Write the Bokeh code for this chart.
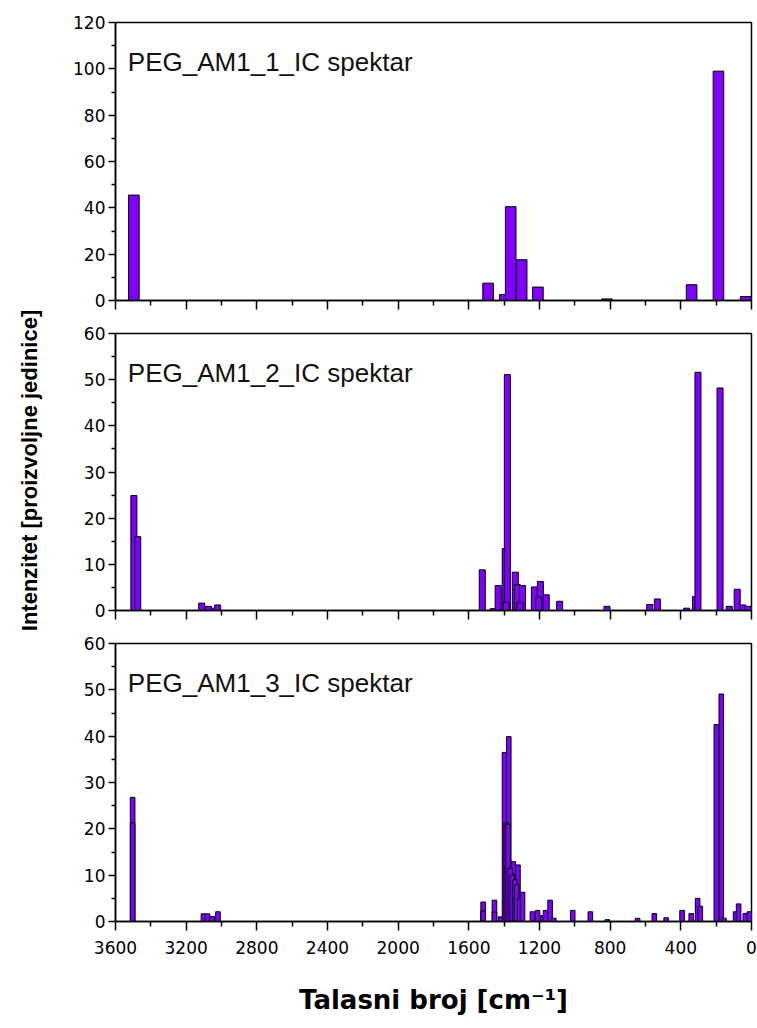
import math
from bokeh.plotting import figure
from bokeh.models import Range1d, FixedTicker, Label
from bokeh.layouts import column, row
from bokeh.embed import file_html
from bokeh.resources import INLINE

# ---- data (wavenumber cm^-1, intensity) ----
wn1 = [3496, 1491, 1396, 1363, 1301, 1209, 818, 339, 187, 33]
int1 = [45.5, 7.5, 2.6, 40.5, 17.6, 5.8, 0.7, 6.8, 99.0, 1.7]

wn2 = [3496, 3474, 3112, 3074, 3045, 3022, 1524, 1462, 1434, 1394, 1382, 1390,
       1337, 1325, 1296, 1310, 1229, 1195, 1162, 1205, 1086, 818, 576, 533,
       367, 317, 303, 178, 126, 81, 50, 19]
int2 = [24.9, 16.0, 1.6, 0.9, 0.5, 1.2, 8.8, 0.4, 5.4, 13.4, 51.1, 1.8,
        8.3, 5.6, 5.4, 1.8, 5.1, 6.3, 3.4, 2.9, 2.0, 0.9, 1.3, 2.5,
        0.5, 3.0, 51.6, 48.2, 0.9, 4.6, 1.2, 0.9]

wn3 = [3503, 3503, 3102, 3079, 3053, 3020, 1519, 1519, 1455, 1455, 1420, 1398,
       1374, 1388, 1348, 1322, 1360, 1378, 1366, 1354, 1340, 1330, 1312, 1296,
       1240, 1211, 1180, 1166, 1140, 1119, 1012, 912, 816, 645, 550, 483, 393,
       341, 305, 290, 199, 171, 156, 90, 73, 35, 12]
int3 = [26.8, 21.3, 1.65, 1.65, 1.1, 2.1, 4.2, 2.3, 4.6, 2.0, 1.0, 36.5,
        39.9, 21.3, 12.9, 12.2, 10.4, 21.0, 11.5, 10.0, 9.0, 8.0, 5.0, 6.3,
        2.1, 2.4, 1.3, 2.4, 4.6, 0.7, 2.4, 2.1, 0.4, 0.7, 1.7, 0.8, 2.4,
        1.7, 5.0, 3.3, 42.5, 49.1, 0.7, 2.1, 3.8, 1.7, 2.1]

titles = ["PEG_AM1_1_IC spektar", "PEG_AM1_2_IC spektar", "PEG_AM1_3_IC spektar"]
x_ticks = [3600, 3200, 2800, 2400, 2000, 1600, 1200, 800, 400, 0]
x_minor = [3400, 3000, 2600, 2200, 1800, 1400, 1000, 600, 200]
ymax = [120, 60, 60]
bar_w = [60, 34, 26]
y_title = "Intenzitet [proizvoljne jedinice]"
x_title = "Talasni broj [cm\u207b\u00b9]"

BAR = "#7f00ff"
TICK_FONT = "DejaVu Sans"
TW = 45          # width of the y-title strip
PW = 757 - TW    # panel width

def make_panel(i, wn, vals, height, top, bottom, show_x_labels):
    p = figure(width=PW, height=height, output_backend="svg", toolbar_location=None,
               x_range=Range1d(3600, 0), y_range=Range1d(0, ymax[i]),
               min_border_left=115 - TW, min_border_right=6,
               min_border_top=top, min_border_bottom=bottom)
    p.background_fill_color = "white"
    p.border_fill_color = "white"
    p.outline_line_color = "black"
    p.outline_line_width = 1.5
    p.xgrid.visible = False
    p.ygrid.visible = False
    p.vbar(x=wn, top=vals, bottom=0, width=bar_w[i], fill_color=BAR,
           line_color="black", line_width=1)

    step = 20 if ymax[i] == 120 else 10
    yt = list(range(0, ymax[i] + 1, step))
    ym = [v + step / 2 for v in yt[:-1]]
    p.yaxis.ticker = FixedTicker(ticks=yt, minor_ticks=ym)
    p.xaxis.ticker = FixedTicker(ticks=x_ticks, minor_ticks=x_minor)
    for ax in (p.xaxis[0], p.yaxis[0]):
        ax.axis_line_color = "black"
        ax.axis_line_width = 1.5
        ax.major_tick_line_color = "black"
        ax.minor_tick_line_color = "black"
        ax.major_tick_line_width = 1.5
        ax.minor_tick_line_width = 1.5
        ax.major_tick_in = 0
        ax.minor_tick_in = 0
        ax.major_label_text_color = "black"
        ax.major_label_text_font = TICK_FONT
        ax.major_label_text_font_size = "17px"
    p.yaxis.major_tick_out = 7
    p.yaxis.minor_tick_out = 4
    p.yaxis.major_label_standoff = 3
    p.xaxis.major_tick_out = 9
    p.xaxis.minor_tick_out = 5
    p.xaxis.major_label_standoff = 10
    if not show_x_labels:
        p.xaxis.major_label_text_font_size = "0px"
        p.xaxis.major_label_text_color = None
        p.xaxis.major_label_standoff = 0
    else:
        p.xaxis.axis_label = x_title
        p.xaxis.axis_label_text_font = "DejaVu Sans"
        p.xaxis.axis_label_text_font_style = "bold"
        p.xaxis.axis_label_text_font_size = "26px"
        p.xaxis.axis_label_text_color = "black"
        p.xaxis.axis_label_standoff = 28
    ty = ymax[i] * 238.0 / 277.0
    p.add_layout(Label(x=3530, y=ty, text=titles[i], text_font="Liberation Sans",
                       text_font_size="26px", text_color="#111111",
                       text_baseline="alphabetic", text_align="left"))
    return p

p1 = make_panel(0, wn1, int1, 316, 22, 16, False)
p2 = make_panel(1, wn2, int2, 310, 17, 16, False)
p3 = make_panel(2, wn3, int3, 394, 17, 99, True)
H = 316 + 310 + 394

# narrow strip carrying the shared y-axis title
t = figure(width=TW, height=H, output_backend="svg", toolbar_location=None,
           x_range=Range1d(0, 1), y_range=Range1d(0, 1),
           min_border_left=0, min_border_right=0, min_border_top=0, min_border_bottom=0)
t.axis.visible = False
t.grid.visible = False
t.outline_line_color = None
t.border_fill_color = "white"
t.add_layout(Label(x=29.0 / TW, y=1 - 470.0 / H, text=y_title, angle=math.pi / 2,
                   text_font="Liberation Sans", text_font_style="bold",
                   text_font_size="22px", text_color="black",
                   text_align="center", text_baseline="middle"))

layout = row(t, column(p1, p2, p3, spacing=0), spacing=0)
open("out.html", "w").write(file_html(layout, INLINE))
